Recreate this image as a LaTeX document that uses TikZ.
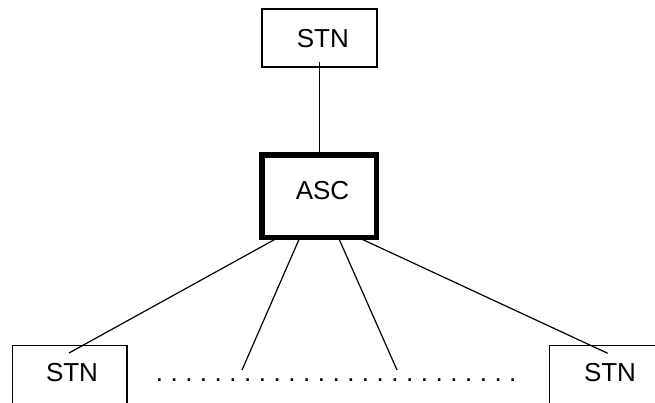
\documentclass[tikz,border=0pt]{standalone}
\usepackage{fontspec}
\setmainfont{Liberation Sans}
\newcommand\onedot{\makebox[14.72pt]{.}}
\begin{document}
\begin{tikzpicture}[x=1pt,y=-1pt,
  thinbox/.style={draw,line width=1.1pt,inner sep=0pt},
  thickbox/.style={draw,line width=5.5pt,inner sep=0pt},
  lbl/.style={inner sep=0pt,font=\fontsize{26}{30}\selectfont},
  conn/.style={line width=1.2pt}]
\clip (0,0) rectangle (655,403);
\fill[white] (0,0) rectangle (655,403);
% boxes
\node[thinbox,minimum width=115pt,minimum height=58pt] (top) at (319.5,38) {};
\node[thickbox,minimum width=114.5pt,minimum height=82.5pt] (asc) at (319.25,196.25) {};
\node[thinbox,minimum width=114.7pt,minimum height=80pt] (bl) at (69.65,385.7) {};
\node[thinbox,minimum width=130pt,minimum height=80pt] (br) at (614.3,385.7) {};
% labels
\node[lbl] (ttop) at (322.8,38.8) {STN};
\node[lbl] (tasc) at (322.5,190.3) {ASC};
\node[lbl] (tbl) at (72,373) {STN};
\node[lbl] (tbr) at (610,372.7) {STN};
\node[lbl,anchor=base west] (dots) at (151.9,381.6) {\onedot\onedot\onedot\onedot\onedot\onedot\onedot\onedot\onedot\onedot\onedot\onedot\onedot\onedot\onedot\onedot\onedot\onedot\onedot\onedot\onedot\onedot\onedot\onedot\onedot};
% connector end points
\coordinate (a0) at (319.3,62.3);
\coordinate (a1) at (319.3,158);
\coordinate (s1) at (281,236);
\coordinate (s2) at (300.5,236);
\coordinate (s3) at (337.7,236);
\coordinate (s4) at (355,236);
\coordinate (e1) at (69,353);
\coordinate (e2) at (242,370);
\coordinate (e3) at (397,370);
\coordinate (e4) at (607.7,353.3);
\draw[conn] (a0) -- (a1);
\draw[conn] (s1) -- (e1);
\draw[conn] (s2) -- (e2);
\draw[conn] (s3) -- (e3);
\draw[conn] (s4) -- (e4);
\end{tikzpicture}
\end{document}
